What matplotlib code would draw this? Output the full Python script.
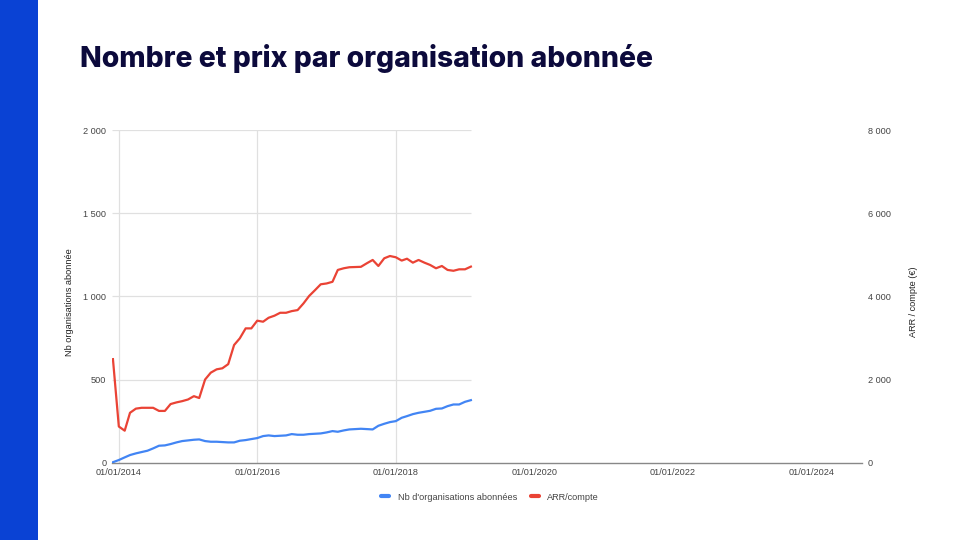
import matplotlib
matplotlib.use("Agg")
import matplotlib.pyplot as plt
from matplotlib.lines import Line2D
import pandas as pd

# ---- data (monthly, Dec 2013 -> Feb 2019) ----
months = pd.date_range("2013-12-01", periods=63, freq="MS")

nb_organisations = [
    3,
    16, 32, 46, 56, 64, 72, 86, 102, 104, 112, 122, 130,
    134, 138, 140, 130, 126, 126, 124, 122, 122, 132, 136, 142,
    148, 160, 164, 160, 162, 164, 172, 168, 168, 172, 174, 176,
    182, 190, 186, 194, 200, 202, 204, 202, 200, 222, 234, 244,
    250, 270, 280, 292, 300, 306, 312, 324, 326, 340, 350, 350,
    366, 376,
]

arr_compte = [
    2490,
    870, 770, 1200, 1300, 1320, 1320, 1320, 1245, 1245, 1410, 1450, 1480,
    1520, 1600, 1555, 2000, 2165, 2245, 2270, 2370, 2830, 2990, 3230, 3230,
    3415, 3390, 3485, 3535, 3605, 3605, 3645, 3670, 3830, 4010, 4150, 4290,
    4310, 4350, 4635, 4675, 4700, 4705, 4710, 4795, 4875, 4730, 4915, 4970,
    4940, 4860, 4905, 4810, 4875, 4810, 4755, 4675, 4730, 4635, 4615, 4650,
    4650, 4715,
]

left_ticks = [0, 500, 1000, 1500, 2000]
left_tick_labels = ["0", "500", "1\u00a0000", "1\u00a0500", "2\u00a0000"]
right_ticks = [0, 2000, 4000, 6000, 8000]
right_tick_labels = ["0", "2\u00a0000", "4\u00a0000", "6\u00a0000", "8\u00a0000"]
x_tick_dates = pd.to_datetime(["2014-01-01", "2016-01-01", "2018-01-01",
                               "2020-01-01", "2022-01-01", "2024-01-01"])
x_tick_labels = ["01/01/2014", "01/01/2016", "01/01/2018",
                 "01/01/2020", "01/01/2022", "01/01/2024"]

title = "Nombre et prix par organisation abonnée"
label_left = "Nb organisations abonnée"
label_right = "ARR / compte (€)"
legend_labels = ["Nb d'organisations abonnées", "ARR/compte"]

BLUE = "#4285f4"
RED = "#ea4335"
GRID = "#e0e0e0"
TXT = "#444444"

plt.rcParams["font.family"] = ["Liberation Sans", "DejaVu Sans"]

fig = plt.figure(figsize=(9.6, 5.4), dpi=100)
fig.patch.set_facecolor("white")

# left blue band
band = fig.add_axes([0, 0, 38 / 960, 1])
band.set_facecolor("#0a42d4")
band.set_xticks([]); band.set_yticks([])
for s in band.spines.values():
    s.set_visible(False)

fig.text(80 / 960, 1 - 67 / 540, title, family=["Inter", "DejaVu Sans"],
         fontsize=20.4, fontweight="heavy", color="#0c0a3c", va="baseline", ha="left")

ax = fig.add_axes([112 / 960, 1 - 462.7 / 540, 750 / 960, 332.7 / 540])
ax2 = ax.twinx()

xmin = pd.Timestamp("2013-11-26")
xmax = pd.Timestamp("2024-09-25")
ax.set_xlim(xmin, xmax)
ax.set_ylim(0, 2000)
ax2.set_ylim(0, 8000)

# gridlines only across the data span (as in the reference)
data_end = months[-1]
for t in left_ticks[1:]:
    ax.hlines(t, xmin, data_end, color=GRID, lw=0.9, zorder=0)
for d in x_tick_dates:
    if d <= data_end:
        ax.axvline(d, color=GRID, lw=0.9, zorder=0)

ax.plot(months, nb_organisations, color=BLUE, lw=1.6, zorder=3)
ax2.plot(months, arr_compte, color=RED, lw=1.6, zorder=3)

for a in (ax, ax2):
    for s in a.spines.values():
        s.set_visible(False)
ax.spines["bottom"].set_visible(True)
ax.spines["bottom"].set_color("#888888")
ax.spines["bottom"].set_linewidth(1.0)

ax.set_yticks(left_ticks)
ax.set_yticklabels(left_tick_labels)
ax2.set_yticks(right_ticks)
ax2.set_yticklabels(right_tick_labels)
ax.set_xticks(x_tick_dates)
ax.set_xticklabels(x_tick_labels)
ax.tick_params(axis="y", length=0, pad=4, labelsize=6.6, labelcolor=TXT)
ax2.tick_params(axis="y", length=0, pad=4, labelsize=6.6, labelcolor=TXT)
ax.tick_params(axis="x", length=0, pad=4, labelsize=6.6, labelcolor=TXT)

ax.set_ylabel(label_left, fontsize=6.6, color="#222222")
ax.yaxis.set_label_coords(-0.051, 0.483)
ax2.set_ylabel(label_right, fontsize=6.6, color="#222222")
ax2.yaxis.set_label_coords(1.0627, 0.483)

handles = [Line2D([], [], color=BLUE, lw=3, solid_capstyle="round"),
           Line2D([], [], color=RED, lw=3, solid_capstyle="round")]
fig.legend(handles, legend_labels, loc="center", bbox_to_anchor=(490 / 960, 1 - 497 / 540),
           ncol=2, frameon=False, fontsize=6.6, handlelength=0.9, handletextpad=0.9,
           columnspacing=1.5, labelcolor=TXT)

fig.savefig("out.png", dpi=100, facecolor="white")
